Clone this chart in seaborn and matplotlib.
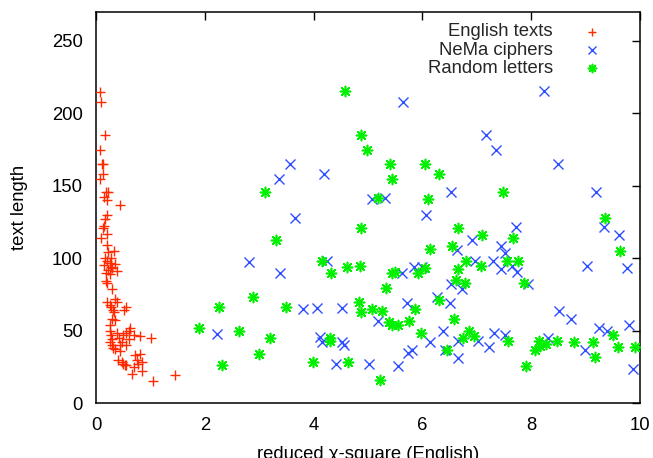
import numpy as np
import pandas as pd
import matplotlib
matplotlib.use("Agg")
import matplotlib.pyplot as plt
import seaborn as sns

# ---- data -------------------------------------------------------------
english_x = [0.07, 0.09, 0.17, 0.07, 0.11, 0.13, 0.13, 0.07, 0.18, 0.15, 0.22, 0.20, 0.45, 0.20, 0.17, 0.15, 0.13,
             0.10, 0.21, 0.21, 0.34, 0.22, 0.17, 0.20, 0.25, 0.15, 0.28, 0.22, 0.30, 0.38, 0.18, 0.25, 0.35, 0.27,
             0.18, 0.20, 0.29, 0.35, 0.38, 0.21, 0.25, 0.31, 0.51, 0.55, 0.28, 0.33,
             0.35, 0.26, 0.30, 0.63, 0.60, 0.55, 0.70, 0.81, 1.02, 0.25, 0.28, 0.30, 0.38, 0.42, 0.50, 0.48, 0.45,
             0.30, 0.26, 0.32, 0.35, 0.44, 0.55, 0.60,
             0.72, 0.76, 0.80, 0.84, 0.84, 0.53, 0.50, 0.48, 0.55, 0.66, 0.70, 0.40, 1.05, 1.45, 0.78]
english_y = [215, 208, 185, 175, 165, 165, 158, 155, 146, 142, 146, 140, 137, 130, 127, 122, 121,
             114, 117, 109, 105, 104, 100, 98, 97, 95, 94, 92, 93, 91, 90, 89, 96, 100,
             84, 83, 79, 72, 70, 70, 68, 64, 64, 66, 66, 63,
             57, 54, 58, 52, 50, 48, 47, 46, 45, 50, 47, 44, 48, 45, 47, 42, 40,
             40, 42, 38, 37, 36, 40, 44,
             33, 30, 34, 28, 22, 26, 27, 28, 26, 20, 25, 30, 15, 19, 27]

nema_x = [3.37, 3.57, 4.20, 3.65, 2.82, 4.25, 3.38, 3.80, 4.06, 2.22, 4.12, 4.15,
          5.65, 8.24, 7.16, 7.35, 8.50, 6.53, 9.19, 5.07, 5.31, 6.06, 9.34, 7.72,
          9.62, 6.91, 7.44, 7.52, 6.63, 6.97, 7.29, 7.44, 7.64, 7.73, 9.02, 9.77,
          5.62, 5.85, 5.99, 6.53, 6.72, 7.95, 6.26, 6.51, 5.71, 4.52, 5.19,
          8.51, 8.74, 9.25, 9.39, 9.80, 6.37, 6.14, 4.52, 4.55, 5.80, 5.74, 6.42, 6.66, 6.66,
          7.03, 7.32, 7.52, 7.23, 8.30, 8.98, 9.88, 4.42, 5.02, 5.55]
nema_y = [154.5, 164.8, 158, 127.8, 97.7, 97.9, 89.7, 64.8, 65.7, 47.6, 45.7, 42.3,
          207.8, 215.2, 184.8, 174.7, 164.8, 145.7, 145.7, 140.7, 141.9, 129.7, 121.6, 121.6,
          115.9, 112.9, 108.5, 103.9, 105.5, 97.9, 97.9, 92.2, 94.7, 90.6, 94.7, 92.9,
          89.9, 94, 94, 82.5, 78.6, 82.5, 73.3, 68.8, 68.8, 65.7, 56.8,
          63.4, 57.7, 51.5, 49.7, 53.8, 49.7, 41.9, 41.9, 40, 36.6, 34.3, 36.6, 30.8, 42.8,
          42.8, 48, 46.9, 38.4, 45, 36.6, 23.4, 26.7, 26.7, 25.7]

random_x = [3.11, 3.31, 4.16, 4.32, 2.89, 2.26, 3.49, 1.89, 2.63, 3.20, 4.30, 4.31, 3.00, 2.31, 3.99,
            4.58, 4.88, 4.98, 5.40, 6.04, 5.44, 6.30, 7.49, 5.19, 6.11, 9.36, 4.87, 6.66,
            7.10, 7.67, 6.14, 6.54, 9.64, 6.80, 7.56, 7.75, 7.07, 4.62, 4.85, 5.44, 5.50, 5.91, 6.05, 6.65,
            6.62, 6.78, 7.86, 5.33, 6.31, 4.84, 4.87, 5.07, 5.26, 5.86, 5.39, 5.45, 5.55, 5.76, 6.59,
            5.97, 6.85, 6.75, 6.94, 7.58, 6.45, 4.64, 5.22, 7.90, 8.07, 8.14, 8.16, 8.28, 8.47, 8.79,
            9.14, 9.17, 9.51, 9.59, 9.91]
random_y = [145.7, 112.6, 97.9, 89.9, 72.9, 66, 66, 51.7, 49.4, 44.8, 44.6, 42.8, 33.8, 26, 28,
            215.2, 184.8, 174.7, 164.8, 164.8, 154.5, 158, 145.7, 141.9, 140.7, 128, 120.9, 120.9,
            115.9, 113.6, 106.2, 108.5, 104.8, 97.9, 97.9, 97.9, 94.7, 93.8, 94.7, 90.1, 90.6, 89.9, 92.9, 92.2,
            84.8, 83.2, 83.2, 79.1, 71, 69.9, 62.6, 64.8, 63.7, 64.8, 55.6, 53.8, 53.8, 56.8, 57.7,
            48, 49.7, 44.6, 46.2, 42.8, 36.6, 28, 15.9, 25.7, 36.6, 42.8, 39.5, 40.7, 42.8, 41.8,
            41.8, 31.5, 46.9, 38.9, 38.9]

series_names = ["English texts", "NeMa ciphers", "Random letters"]
x_ticks = [0, 2, 4, 6, 8, 10]
y_ticks = [0, 50, 100, 150, 200, 250]

# ---- style ------------------------------------------------------------
sns.set_theme(style="white")
plt.rcParams["font.family"] = ["Liberation Sans", "DejaVu Sans"]

FS = 13.3
fig = plt.figure(figsize=(6.53, 4.58), dpi=100)
ax = fig.add_axes([96 / 653, 1 - 403 / 458, (640 - 96) / 653, (403 - 12) / 458])

colors = ["#ff2a00", "#2f4fff", "#00f000"]
markers = ["+", "x", (8, 2, 0)]
widths = [1.0, 1.0, 1.2]
xs = [english_x, nema_x, random_x]
ys = [english_y, nema_y, random_y]

for name, xv, yv, c, m, lw in zip(series_names, xs, ys, colors, markers, widths):
    df = pd.DataFrame({"x": xv, "y": yv})
    sns.scatterplot(data=df, x="x", y="y", ax=ax, marker=m, color=c,
                    s=52, linewidth=lw, label=name, zorder=3)

ax.set_xlim(0, 10)
ax.set_ylim(0, 270)
ax.set_xticks(x_ticks)
ax.set_yticks(y_ticks)
ax.set_xticklabels([str(t) for t in x_ticks])
ax.set_yticklabels([str(t) for t in y_ticks])

for sp in ax.spines.values():
    sp.set_visible(True)
    sp.set_color("black")
    sp.set_linewidth(1.1)

ax.tick_params(axis="both", which="major", direction="in", length=6, width=1.0,
               colors="black", labelsize=FS, top=True, right=True)
ax.tick_params(axis="y", pad=9.5)
ax.tick_params(axis="x", pad=10)

ax.set_xlabel("reduced \u03c7-square (English)", fontsize=FS, labelpad=8.5, color="black")
ax.set_ylabel("text length", fontsize=FS, labelpad=17.5, color="black")

ax.legend(loc="upper right", bbox_to_anchor=(0.9458, 0.9895), frameon=False,
          markerfirst=False, fontsize=FS, labelspacing=0.07, markerscale=0.8,
          handletextpad=1.51, handlelength=1.2, borderaxespad=0.0)

fig.savefig("out.png", dpi=100)
